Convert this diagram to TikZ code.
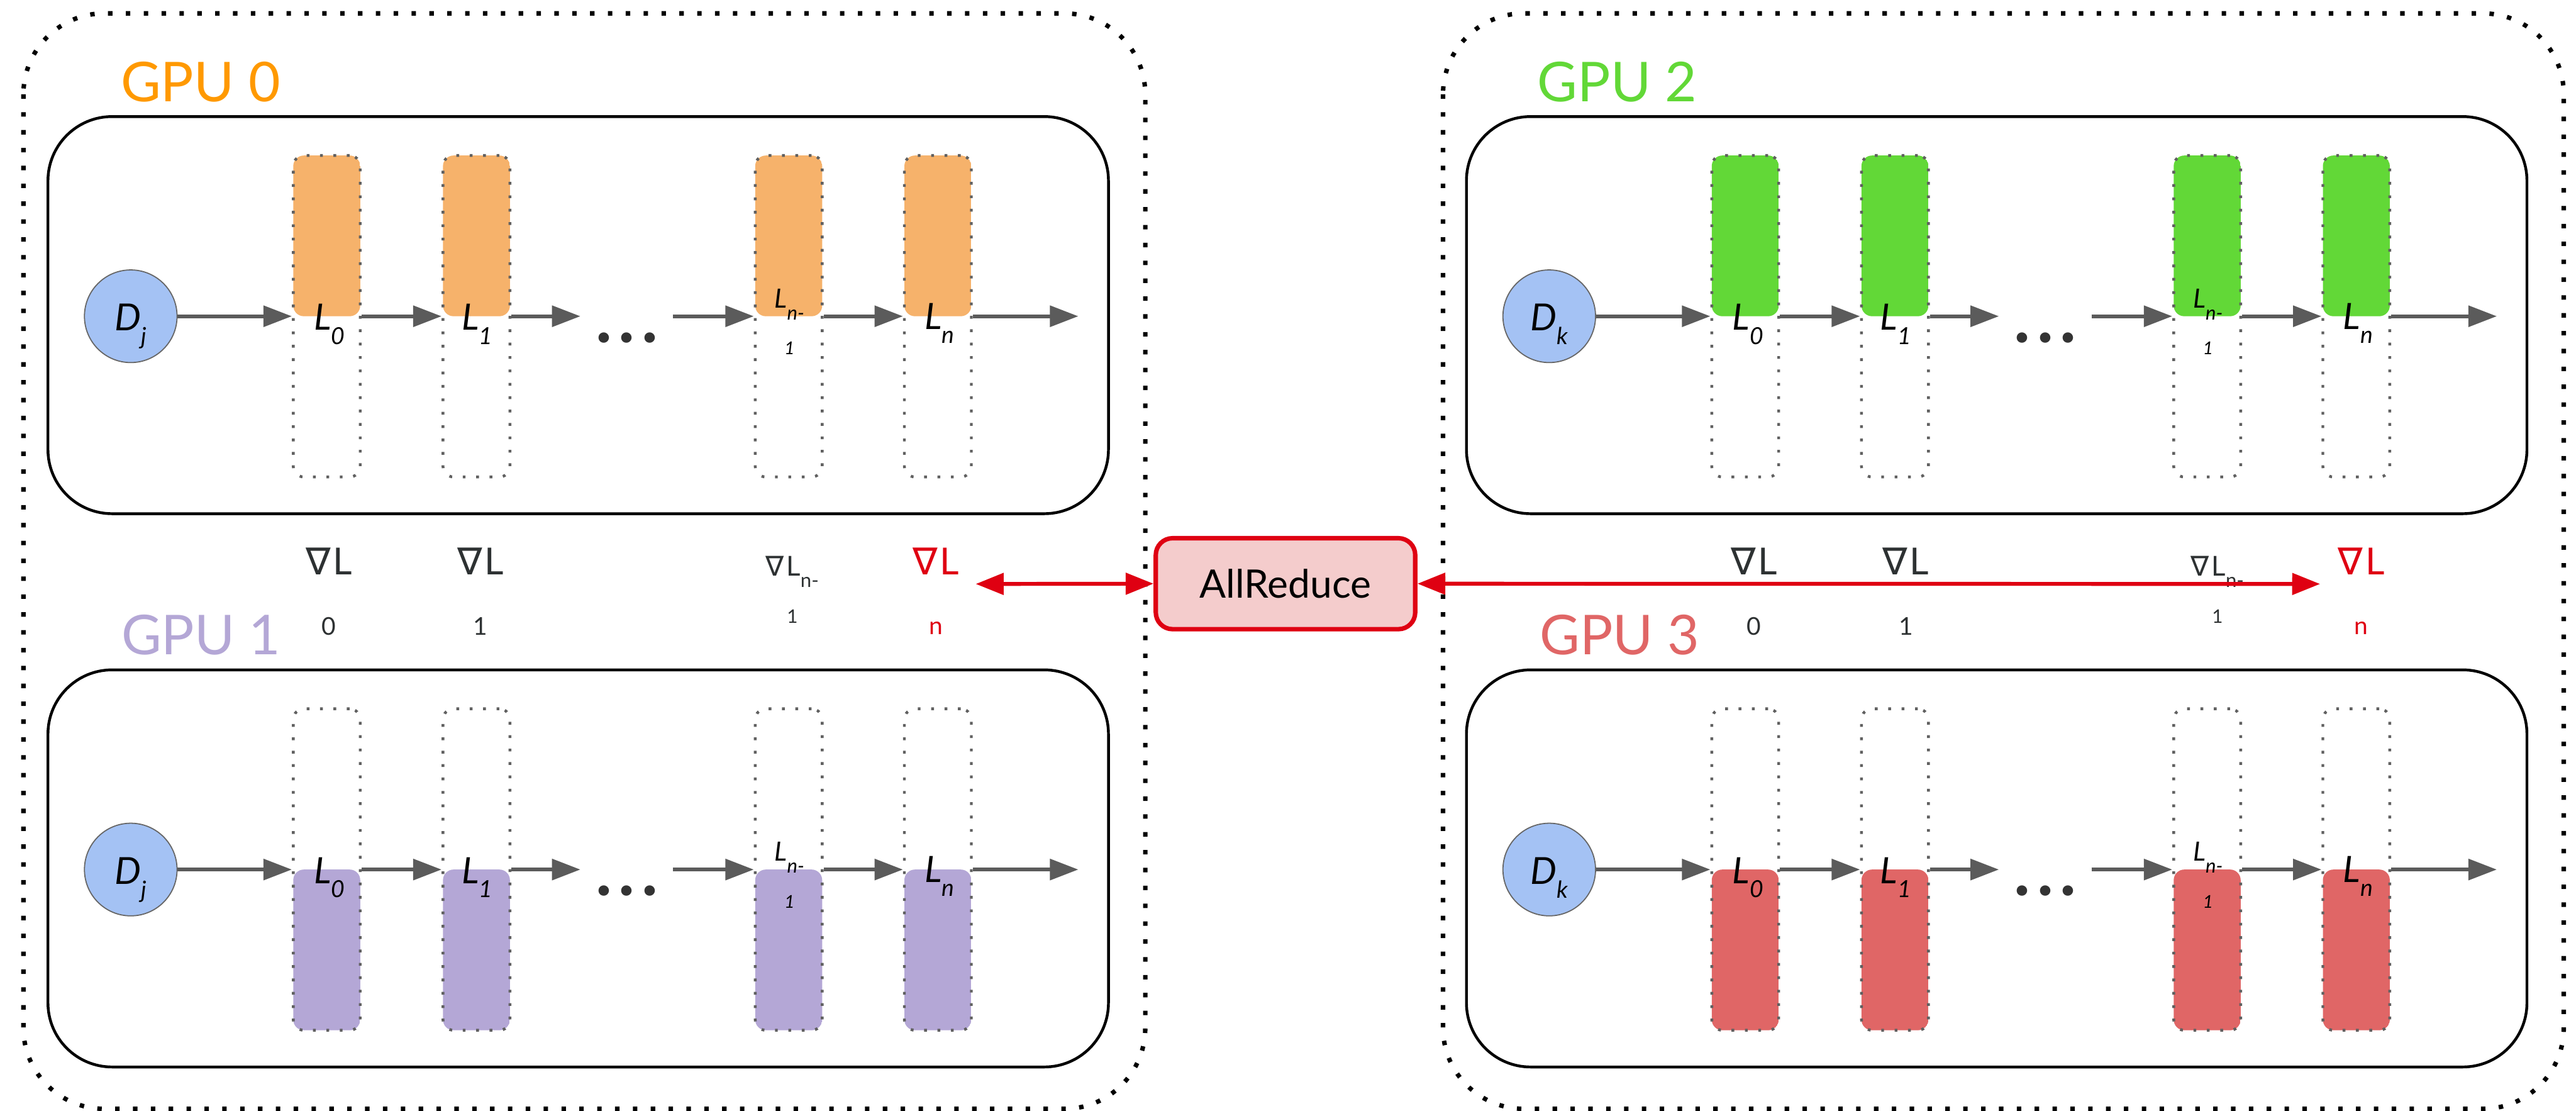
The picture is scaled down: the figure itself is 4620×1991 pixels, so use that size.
\documentclass[tikz,border=0pt]{standalone}
\usepackage{fontspec}
\setmainfont{Lato}
\newfontfamily\symf{DejaVu Sans}
\usetikzlibrary{arrows.meta}

\definecolor{gpuorange}{HTML}{FF9900}
\definecolor{barorange}{HTML}{F6B26B}
\definecolor{bargreen}{HTML}{62D837}
\definecolor{barpurple}{HTML}{B4A7D6}
\definecolor{barred}{HTML}{E06666}
\definecolor{bargray}{HTML}{606060}
\definecolor{flowgray}{HTML}{5B5B5B}
\definecolor{datablue}{HTML}{A4C2F4}
\definecolor{datagray}{HTML}{666666}
\definecolor{syncred}{HTML}{DF0012}
\definecolor{reducefill}{HTML}{F4CCCC}
\definecolor{gradtext}{HTML}{2D3132}
\definecolor{dotgray}{HTML}{333333}

% two centred lines, the node baseline being the first one
\newcommand\twoline[3]{\vtop{\baselineskip=#3\relax\lineskiplimit=-\maxdimen
  \halign{\hfil##\hfil\cr#1\cr#2\cr}}}
% lowered index in a smaller size
\newcommand\lsub[2][12]{\raisebox{-2.5mm}{\fontsize{#1}{#1}\selectfont #2}}
\newcommand\nab{{\symf ∇}\kern0.4mm}
\newcommand\gsub{\fontsize{12.5}{12.5}\selectfont}

\tikzset{
  outerbox/.style={draw=black, line width=0.08cm, dash pattern=on 0.08cm off 0.24cm,
    rounded corners=1.45cm},
  innerbox/.style={draw=black, line width=0.05cm, rounded corners=1.15cm},
  barbox/.style={draw=bargray, line width=0.05cm, dash pattern=on 0.05cm off 0.19cm,
    rounded corners=0.19cm, minimum width=1.2cm, minimum height=5.76cm, inner sep=0pt},
  topfill/.style={path picture={\fill[#1, rounded corners=0.19cm]
    (path picture bounding box.north west) rectangle (path picture bounding box.east);}},
  botfill/.style={path picture={\fill[#1, rounded corners=0.19cm]
    (path picture bounding box.west) rectangle (path picture bounding box.south east);}},
  datanode/.style={circle, draw=datagray, line width=0.02cm, fill=datablue,
    minimum size=1.66cm, inner sep=0pt, text height=0.6cm, text depth=0.08cm,
    font=\fontsize{19}{19}\selectfont\itshape},
  flow/.style={draw=flowgray, line width=0.07cm, -{Triangle[length=0.51cm,width=0.37cm]}},
  sync/.style={draw=syncred, line width=0.07cm,
    {Triangle[length=0.5cm,width=0.38cm]}-{Triangle[length=0.5cm,width=0.38cm]}},
  lab/.style={anchor=base, inner sep=0pt, font=\fontsize{18.5}{18.5}\selectfont\itshape},
  ellip/.style={anchor=base, inner sep=0pt, text=dotgray, font=\fontsize{35}{35}\selectfont\bfseries},
  grad/.style={anchor=base, inner sep=0pt, text=gradtext, font=\fontsize{19}{19}\selectfont},
  gpulab/.style={anchor=base west, inner sep=0pt, font=\fontsize{28}{28}\selectfont},
  reducebox/.style={draw=syncred, fill=reducefill, line width=0.08cm, rounded corners=0.3cm,
    minimum width=4.65cm, minimum height=1.63cm, inner sep=0pt,
    font=\fontsize{20}{20}\selectfont},
}

% one GPU: data source, four layers, forward arrows
% #1 name prefix, #2 x shift, #3 y shift, #4 layer fill, #5 data index
\newcommand\gpurow[5]{%
\begin{scope}[shift={(#2,#3)}]
  \draw[innerbox] (86,209) rectangle (1988,921);
  \node[datanode] (#1d) at (234.5,567) {D\lsub{#5}};
  \node[barbox,#4] (#1b0) at (586,567) {};
  \node[barbox,#4] (#1b1) at (854.5,567) {};
  \node[barbox,#4] (#1b2) at (1414.5,567) {};
  \node[barbox,#4] (#1b3) at (1682,567) {};
  \coordinate (#1e1) at (1041,567);
  \coordinate (#1s2) at (1207,567);
  \coordinate (#1e3) at (1934,567);
  \draw[flow] (#1d.east) -- (#1b0.west);
  \draw[flow] (#1b0.east) -- (#1b1.west);
  \draw[flow] (#1b1.east) -- (#1e1);
  \draw[flow] (#1s2) -- (#1b2.west);
  \draw[flow] (#1b2.east) -- (#1b3.west);
  \draw[flow] (#1b3.east) -- (#1e3);
  \node[ellip] (#1dots) at (1124,614) {.\kern1.2mm.\kern1.2mm.};
  \node[lab] (#1l0) at (591,592) {L\lsub{0}};
  \node[lab] (#1l1) at (856,592) {L\lsub{1}};
  \node[lab, font=\fontsize{13.5}{13.5}\selectfont\itshape] (#1l2) at (1416,552)
    {\twoline{L\raisebox{-2.1mm}{\fontsize{10}{10}\selectfont n-}}{\fontsize{9}{9}\selectfont 1}{8.4mm}};
  \node[lab] (#1l3) at (1685,590) {L\lsub{n}};
\end{scope}}

% gradients of one pair of GPUs
\newcommand\gradset[2]{%
\begin{scope}[shift={(#2,0)}]
  \node[grad] (#1g0) at (590,1030) {\twoline{\nab L}{\gsub 0}{10.9mm}};
  \node[grad] (#1g1) at (862,1030) {\twoline{\nab L}{\gsub 1}{10.9mm}};
  \node[grad, font=\fontsize{14}{14}\selectfont] (#1g2) at (1421,1033)
    {\twoline{\nab L\raisebox{-2mm}{\fontsize{10}{10}\selectfont n-}}{\fontsize{9.5}{9.5}\selectfont 1}{8.4mm}};
  \node[grad, text=syncred] (#1g3) at (1679,1030) {\twoline{\nab L}{\gsub n}{10.8mm}};
\end{scope}}

\begin{document}
\begin{tikzpicture}[x=0.01cm, y=-0.01cm]
  \useasboundingbox (0,0) rectangle (4620,1991);
  \fill[white] (0,0) rectangle (4620,1991);

  % dotted groups of two GPUs
  \draw[outerbox] (42,24) rectangle (2054,1988);
  \draw[outerbox] (2588,24) rectangle (4598,1988);

  \node[gpulab, text=gpuorange] (gpu0) at (216,182) {GPU 0};
  \node[gpulab, text=barpurple] (gpu1) at (217,1174) {GPU 1};
  \node[gpulab, text=bargreen] (gpu2) at (2757,182) {GPU 2};
  \node[gpulab, text=barred] (gpu3) at (2761,1174) {GPU 3};

  \gpurow{a}{0}{0}{topfill=barorange}{j}
  \gpurow{b}{0}{992}{botfill=barpurple}{j}
  \gpurow{c}{2544}{0}{topfill=bargreen}{k}
  \gpurow{d}{2544}{992}{botfill=barred}{k}

  \gradset{l}{0}
  \gradset{r}{2556}

  % gradient exchange
  \node[reducebox] (ar) at (2305.5,1046.5) {AllReduce};
  \coordinate (syncl) at (1750,1047);
  \coordinate (syncr) at (4161,1047);
  \draw[sync] (syncl) -- (ar.west);
  \draw[sync] (ar.east) -- (syncr);
\end{tikzpicture}
\end{document}
